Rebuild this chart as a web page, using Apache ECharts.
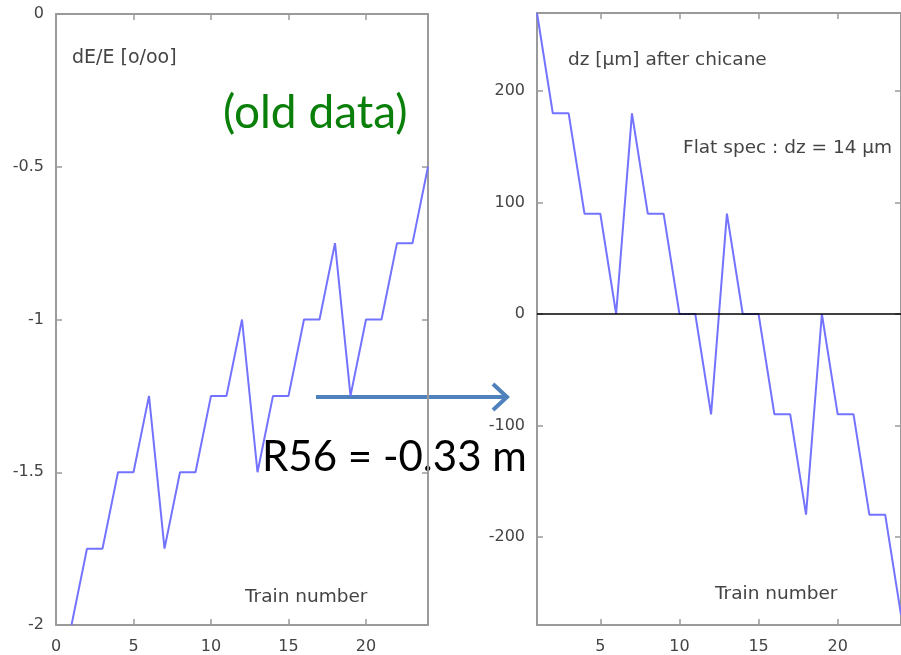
<!DOCTYPE html>
<html>
<head>
<meta charset="utf-8">
<style>
html,body{margin:0;padding:0;background:#fff;}
#chart{width:901px;height:655px;}
</style>
<script src="https://cdn.jsdelivr.net/npm/echarts@6/dist/echarts.min.js"></script>
</head>
<body>
<div id="chart"></div>
<script>
// Data
var trains = [1,2,3,4,5,6,7,8,9,10,11,12,13,14,15,16,17,18,19,20,21,22,23,24];
var dEoverE = [-2,-1.75,-1.75,-1.5,-1.5,-1.25,-1.75,-1.5,-1.5,-1.25,-1.25,-1.0,-1.5,-1.25,-1.25,-1.0,-1.0,-0.75,-1.25,-1.0,-1.0,-0.75,-0.75,-0.5];
var dzAfterChicane = [270,180,180,90,90,0,180,90,90,0,0,-90,90,0,0,-90,-90,-180,0,-90,-90,-180,-180,-270];
var leftXTicks = [0,5,10,15,20];
var rightXTicks = [5,10,15,20];
var rightYTicks = [-200,-100,0,100,200];

var FONT = 'DejaVu Sans';
var borderColor = '#9a9a9a';
var labelColor = '#444444';
var lineColor = '#7373ff';

function pairs(xs, ys){ return xs.map(function(x,i){ return [x, ys[i]]; }); }

function axisBase(extra){
  var base = {
    type:'value',
    axisLine:{show:true, onZero:false, lineStyle:{color:borderColor, width:2}},
    axisTick:{show:true, inside:true, length:6, lineStyle:{color:borderColor, width:1.5}},
    axisLabel:{show:true, color:labelColor, fontFamily:FONT, fontSize:16},
    splitLine:{show:false}
  };
  for (var k in extra){
    if (typeof extra[k]==='object' && base[k] && !Array.isArray(extra[k])){
      for (var j in extra[k]) base[k][j]=extra[k][j];
    } else base[k]=extra[k];
  }
  return base;
}

var chart = echarts.init(document.getElementById('chart'), null, {renderer:'canvas'});

var option = {
  animation:false,
  backgroundColor:'#fff',
  grid:[
    {left:56, top:14, width:372, height:611},
    {left:537, top:13, width:370, height:612}
  ],
  xAxis:[
    axisBase({gridIndex:0, position:'bottom', min:0, max:24, interval:5,
      axisLabel:{margin:14, showMaxLabel:false}}),
    axisBase({gridIndex:0, position:'top', min:0, max:24, interval:5,
      axisLabel:{show:false}}),
    axisBase({gridIndex:1, position:'bottom', min:1, max:24,
      axisLabel:{margin:14, customValues:rightXTicks},
      axisTick:{customValues:rightXTicks}}),
    axisBase({gridIndex:1, position:'top', min:1, max:24,
      axisLabel:{show:false},
      axisTick:{customValues:rightXTicks}})
  ],
  yAxis:[
    axisBase({gridIndex:0, position:'left', min:-2, max:0, interval:0.5,
      axisLabel:{margin:12}}),
    axisBase({gridIndex:0, position:'right', min:-2, max:0, interval:0.5,
      axisLabel:{show:false}}),
    axisBase({gridIndex:1, position:'left', min:-279, max:270,
      axisLabel:{margin:12, customValues:rightYTicks},
      axisTick:{customValues:rightYTicks}}),
    axisBase({gridIndex:1, position:'right', min:-279, max:270,
      axisLabel:{show:false},
      axisTick:{customValues:rightYTicks}})
  ],
  series:[
    {type:'line', xAxisIndex:0, yAxisIndex:0, data:pairs(trains, dEoverE),
      symbol:'none', lineStyle:{color:lineColor, width:2}},
    {type:'line', xAxisIndex:2, yAxisIndex:2, data:pairs(trains, dzAfterChicane),
      symbol:'none', lineStyle:{color:lineColor, width:2},
      markLine:{silent:true, symbol:'none', label:{show:false},
        lineStyle:{color:'#000', width:1.5, type:'solid'},
        data:[{yAxis:0}]}}
  ],
  graphic:[
    {type:'text', x:72, y:58, style:{text:'dE/E [o/oo]', font:'19px "DejaVu Sans"', fill:labelColor, verticalAlign:'middle'}},
    {type:'text', x:245, y:597, style:{text:'Train number', font:'18.5px "DejaVu Sans"', fill:labelColor, verticalAlign:'middle'}},
    {type:'text', x:568, y:60, style:{text:'dz [\u03bcm] after chicane', font:'18.5px "DejaVu Sans"', fill:labelColor, verticalAlign:'middle'}},
    {type:'text', x:683, y:148, style:{text:'Flat spec : dz = 14 \u03bcm', font:'18.5px "DejaVu Sans"', fill:labelColor, verticalAlign:'middle'}},
    {type:'text', x:715, y:594, style:{text:'Train number', font:'18.5px "DejaVu Sans"', fill:labelColor, verticalAlign:'middle'}},
    {type:'text', x:223, y:113, style:{text:'(old data)', font:'46px Lato', fill:'#0a800a', verticalAlign:'middle'}},
    {type:'text', x:262, y:457, style:{text:'R56 = -0.33 m', font:'42px Lato', fill:'#000', verticalAlign:'middle'}},
    {type:'polyline', shape:{points:[[316,397],[505,397]]}, style:{stroke:'#4f81bd', lineWidth:4, fill:null}},
    {type:'polyline', shape:{points:[[493,384],[507,397],[493,410]]}, style:{stroke:'#4f81bd', lineWidth:4, fill:null, lineJoin:'miter'}}
  ]
};
chart.setOption(option);
</script>
</body>
</html>
